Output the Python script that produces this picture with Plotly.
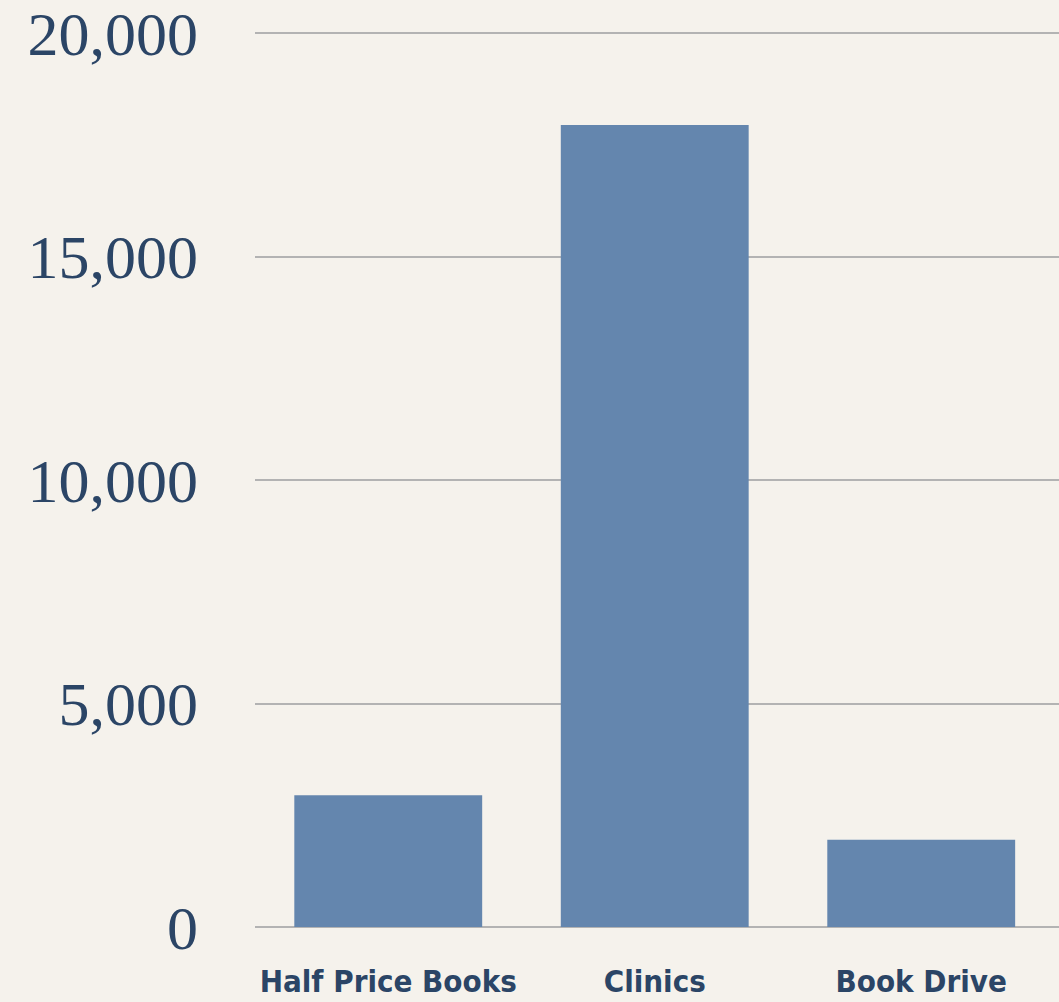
import plotly.graph_objects as go

categories = ["Half Price Books", "Clinics", "Book Drive"]
values = [2950, 17950, 1950]
y_ticks = [0, 5000, 10000, 15000, 20000]
y_tick_labels = ["0", "5,000", "10,000", "15,000", "20,000"]

fig = go.Figure(go.Bar(x=categories, y=values, marker=dict(color="#6486ae", line=dict(width=0))))

fig.update_layout(
    width=1059, height=1002,
    paper_bgcolor="#f5f2ec", plot_bgcolor="#f5f2ec",
    margin=dict(l=255, r=0, t=32, b=75),
    bargap=0.295,
    showlegend=False,
)
fig.update_xaxes(
    range=[-0.5, 2.517], showgrid=False, showline=False, ticks="",
    tickfont=dict(family="Liberation Sans Narrow, DejaVu Sans Condensed, sans-serif", size=31,
                  color="#2b4566", weight="bold"),
    ticklabelstandoff=33,
)
fig.update_yaxes(
    range=[0, 20030], tickvals=y_ticks, ticktext=y_tick_labels,
    showgrid=True, gridcolor="#b3b3b3", gridwidth=2,
    zeroline=True, zerolinecolor="#b3b3b3", zerolinewidth=2,
    showline=False, ticks="",
    tickfont=dict(family="Liberation Serif, DejaVu Serif, serif", size=62, color="#2b4566"),
    ticklabelstandoff=56,
)
fig.write_html(
    "out.html",
    config={"displayModeBar": False},
    post_script="document.body.style.margin='0';document.body.style.background='#f5f2ec';",
)
